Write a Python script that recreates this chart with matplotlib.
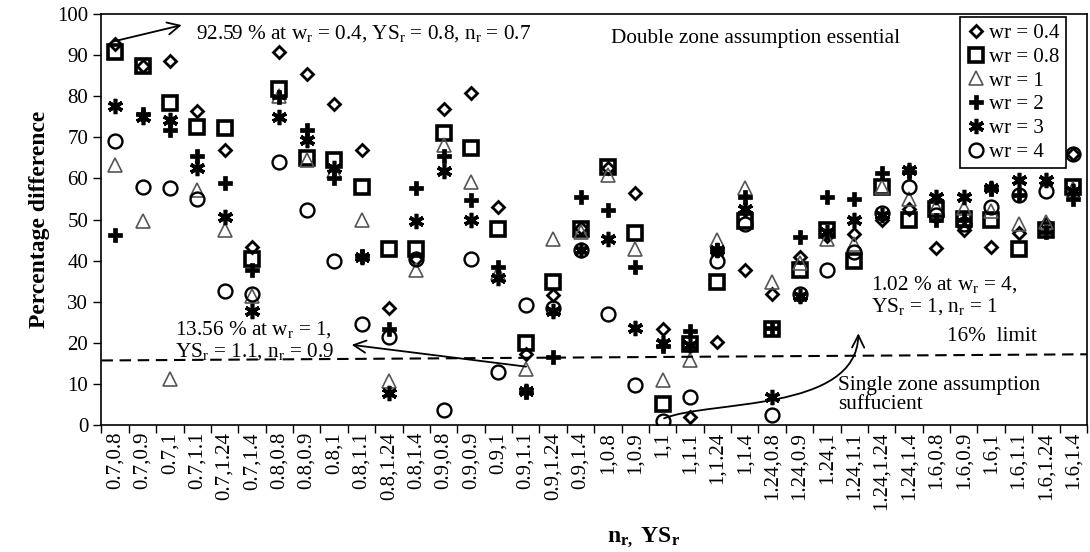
import numpy as np
import matplotlib
matplotlib.use('Agg')
import matplotlib.pyplot as plt
from matplotlib import rcParams
from matplotlib.path import Path
from matplotlib.patches import FancyArrowPatch

rcParams.update({
    'font.family': 'Liberation Serif',
    'mathtext.fontset': 'custom',
    'mathtext.rm': 'Liberation Serif',
    'mathtext.it': 'Liberation Serif:italic',
    'mathtext.bf': 'Liberation Serif:bold',
})

# n_r, YS_r combinations
categories = ['0.7,0.8', '0.7,0.9', '0.7,1', '0.7,1.1', '0.7,1.24', '0.7,1.4',
              '0.8,0.8', '0.8,0.9', '0.8,1', '0.8,1.1', '0.8,1.24', '0.8,1.4',
              '0.9,0.8', '0.9,0.9', '0.9,1', '0.9,1.1', '0.9,1.24', '0.9,1.4',
              '1,0.8', '1,0.9', '1,1', '1,1.1', '1,1.24', '1,1.4',
              '1.24,0.8', '1.24,0.9', '1.24,1', '1.24,1.1', '1.24,1.24', '1.24,1.4',
              '1.6,0.8', '1.6,0.9', '1.6,1', '1.6,1.1', '1.6,1.24', '1.6,1.4']

wr_04 = [92.59, 87.4, 88.6, 76.5, 67, 43.3, 90.7, 85.4, 78, 67, 28.4, 40.5,
         77, 80.9, 53, 17.2, 31.6, 48, 62.5, 56.4, 23.3, 2, 20.3, 37.8,
         31.9, 40.8, 46, 46.5, 50, 52.5, 43, 47.4, 43.3, 46.6, 49, 66]
wr_08 = [90.7, 87.4, 78.4, 72.5, 72.3, 40.4, 81.7, 65, 64.5, 58, 42.9, 42.9,
         71, 67.5, 47.8, 20, 34.8, 47.8, 62.7, 46.6, 5.1, 19.6, 34.7, 49.6,
         23.3, 37.6, 47.4, 40, 58, 49.8, 52.5, 50.2, 49.8, 42.9, 47.5, 58]
wr_1 = [63.3, 49.6, 11.3, 57.2, 47.4, 31.5, 80, 64.5, 61.7, 49.8, 10.6, 37.6,
        68.2, 59.2, 37, 13.56, 45.3, 47, 60.9, 42.9, 11, 15.9, 45, 57.6,
        34.8, 39.5, 45.3, 44, 58, 55, 53, 52.7, 52, 49, 49.5, 57.5]
wr_2 = [46.2, 75.6, 71.9, 65.4, 58.8, 37.6, 79.7, 71.9, 60, 41, 23.3, 57.6,
        65.4, 54.7, 38.4, 8, 16.6, 55.5, 52.2, 38.4, 19.2, 22.9, 42.5, 55.5,
        23.5, 45.8, 55.5, 55.1, 61.3, 61.5, 49.8, 50, 57.5, 56, 47, 55]
wr_3 = [77.5, 75, 74.3, 62.5, 50.7, 27.8, 75, 69.4, 62.5, 40.8, 7.8, 49.6,
        61.7, 50, 35.8, 8.2, 27.8, 42.7, 45.3, 23.7, 20, 19.5, 42.5, 52.5,
        6.9, 31.5, 47, 49.8, 51, 62, 55.5, 55.5, 57.6, 59.6, 59.6, 57]
wr_4 = [69, 58, 57.6, 55.1, 32.7, 31.9, 64.1, 52.3, 40, 24.5, 21.5, 40.4,
        3.7, 40.4, 12.8, 29.2, 28.5, 42.5, 27, 9.8, 1.02, 6.8, 40, 49,
        2.4, 31.9, 37.6, 42, 51.5, 58, 51, 49, 53, 56, 57, 66]

labels = ['wr = 0.4', 'wr = 0.8', 'wr = 1', 'wr = 2', 'wr = 3', 'wr = 4']
limit_line = [15.7, 17.2]  # the "16% limit" dashed line, left and right end

styles = [
    dict(marker='D', ms=6, mfc='none', mec='black', mew=2),
    dict(marker='s', ms=10, mfc='none', mec='black', mew=2.6),
    dict(marker='^', ms=10, mfc='none', mec='#555555', mew=1.2),
    dict(marker='P', ms=10, mfc='black', mec='black', mew=0.5),
    dict(marker=(6, 2, 0), ms=11, mfc='black', mec='black', mew=2.6),
    dict(marker='o', ms=10, mfc='none', mec='black', mew=1.7),
]

fig = plt.figure(figsize=(10.9, 5.52), dpi=100)
ax = fig.add_axes([0.0931, 0.2301, 0.9041, 0.7445])

x = np.arange(len(categories))
for vals, lab, st in zip([wr_04, wr_08, wr_1, wr_2, wr_3, wr_4], labels, styles):
    ax.plot(x, vals, linestyle='none', label=lab, **st)

ax.plot([-0.5, len(categories) - 0.5], limit_line, color='black', lw=1.5,
        dashes=(5.5, 3.2))

ax.set_xlim(-0.5, len(categories) - 0.5)
ax.set_ylim(0, 100)
ax.set_yticks(np.arange(0, 101, 10))
ax.set_xticks(np.arange(-0.5, len(categories), 1))
ax.set_xticklabels([])
ax.set_xticks(x, minor=True)
ax.set_xticklabels(categories, minor=True, rotation=90, fontsize=15)
ax.tick_params(axis='x', which='major', direction='out', length=6, width=1)
ax.tick_params(axis='x', which='minor', length=0, pad=5)
ax.tick_params(axis='y', direction='out', length=6, width=1, labelsize=15)
for s in ax.spines.values():
    s.set_linewidth(1.2)

ax.set_ylabel('Percentage difference', fontsize=17, fontweight='bold', labelpad=5)
fig.text(0.59, 0.005, r'$\mathbf{n_{r,}}$ $\mathbf{YS_r}$', fontsize=17,
         ha='center', va='bottom')

# annotations
fs = 15.3
ax.text(2.95, 95.3, r'92.59 % at w$_\mathrm{r}$ = 0.4, YS$_\mathrm{r}$ = 0.8, n$_\mathrm{r}$ = 0.7',
        fontsize=fs, va='center', ha='left')
ax.annotate('', xy=(2.43, 97.3), xytext=(-0.08, 93.3),
            arrowprops=dict(arrowstyle='->', lw=1.3, mutation_scale=22, shrinkA=0, shrinkB=0))
ax.text(18.1, 94.1, 'Double zone assumption essential', fontsize=fs, va='center', ha='left')
ax.text(2.2, 20.5, '13.56 % at w$_\\mathrm{r}$ = 1,\nYS$_\\mathrm{r}$ = 1.1, n$_\\mathrm{r}$ = 0.9',
        fontsize=fs, va='center', ha='left', linespacing=1.1)
ax.annotate('', xy=(8.64, 19.5), xytext=(15.01, 14.2),
            arrowprops=dict(arrowstyle='->', lw=1.3, mutation_scale=22, shrinkA=0, shrinkB=0))
ax.text(27.6, 31.5, '1.02 % at w$_\\mathrm{r}$ = 4,\nYS$_\\mathrm{r}$ = 1, n$_\\mathrm{r}$ = 1',
        fontsize=fs, va='center', ha='left', linespacing=1.1)
ax.text(30.4, 21.5, '16%  limit', fontsize=fs, va='center', ha='left')
ax.text(26.4, 7.4, 'Single zone assumption\nsuffucient', fontsize=fs, va='center',
        ha='left', linespacing=1.0)
curve = Path([(20.05, 1.6), (21.7, 6.1), (27.1, 3.0), (27.15, 22.3)],
             [Path.MOVETO, Path.CURVE4, Path.CURVE4, Path.CURVE4])
ax.add_patch(FancyArrowPatch(path=curve, arrowstyle='->', lw=1.3, mutation_scale=22,
                             color='black', transform=ax.transData))

leg = ax.legend(loc='upper right', bbox_to_anchor=(0.9787, 0.992), fontsize=15,
                frameon=True, fancybox=False, edgecolor='black', framealpha=1,
                handlelength=0.9, handletextpad=0.2, labelspacing=0.2,
                borderpad=0.3, borderaxespad=0, numpoints=1)
leg.get_frame().set_linewidth(1.2)

fig.savefig('out.png', dpi=100)
